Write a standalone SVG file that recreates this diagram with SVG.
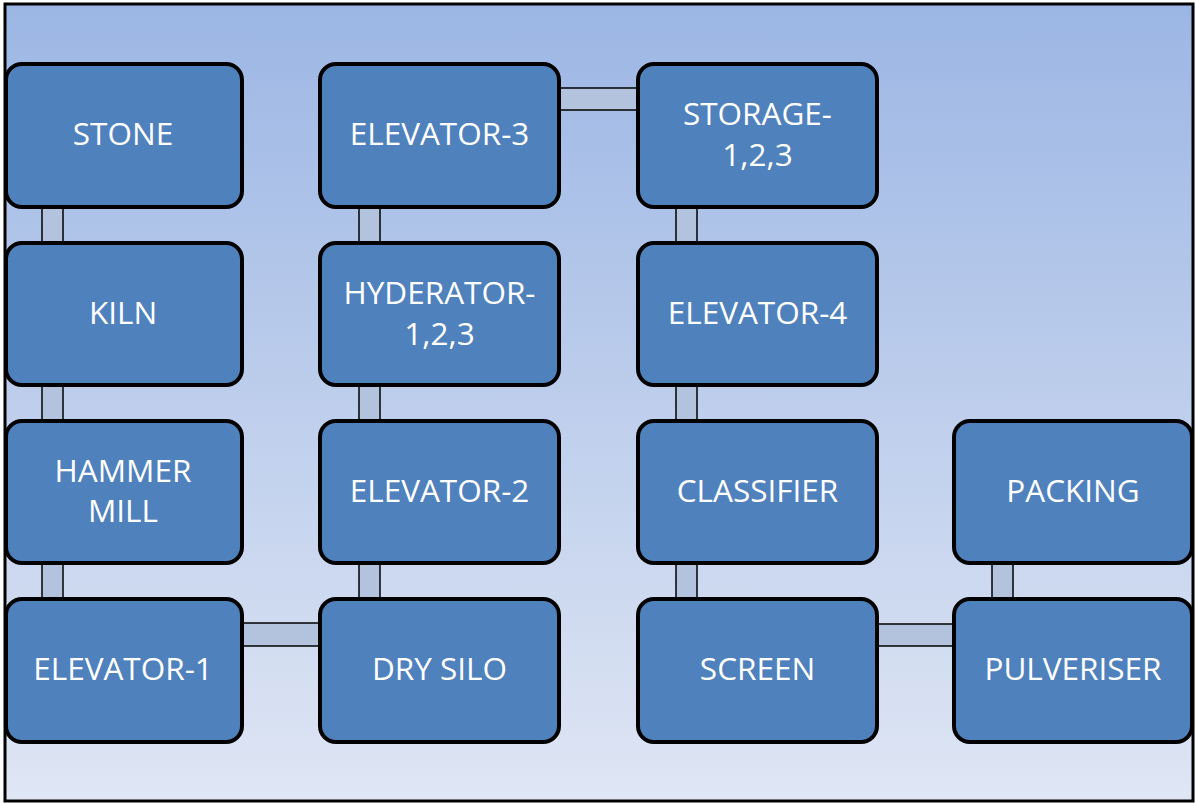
<svg xmlns="http://www.w3.org/2000/svg" width="1195" height="803" viewBox="0 0 1195 803">
<defs>
<linearGradient id="bg" x1="0" y1="0" x2="0" y2="1">
<stop offset="0" stop-color="#9cb6e4"/>
<stop offset="1" stop-color="#dfe6f4"/>
</linearGradient>
<style>
.box{fill:#4f81bd;stroke:#000;stroke-width:4}
.bar{fill:#b3c3dd;stroke:#000;stroke-width:1.5}
.t{font-family:"Open Sans","Liberation Sans",sans-serif;font-size:31.5px;fill:#fff;text-anchor:middle;dominant-baseline:central}
</style>
</defs>
<rect x="5" y="4" width="1188" height="797" fill="url(#bg)" stroke="#000" stroke-width="3"/>
<g id="connectors">
<rect class="bar" x="42" y="207" width="21" height="36"/>
<rect class="bar" x="42" y="385" width="21" height="36"/>
<rect class="bar" x="42" y="563" width="21" height="36"/>
<rect class="bar" x="242" y="623" width="78" height="23"/>
<rect class="bar" x="359" y="563" width="21" height="36"/>
<rect class="bar" x="359" y="385" width="21" height="36"/>
<rect class="bar" x="359" y="207" width="21" height="36"/>
<rect class="bar" x="559" y="88" width="79" height="22"/>
<rect class="bar" x="676" y="207" width="21" height="36"/>
<rect class="bar" x="676" y="385" width="21" height="36"/>
<rect class="bar" x="676" y="563" width="21" height="36"/>
<rect class="bar" x="877" y="624" width="77" height="22"/>
<rect class="bar" x="992" y="563" width="21" height="36"/>
</g>
<g id="stone"><rect class="box" x="6" y="64" width="236" height="143" rx="16"/><text class="t" x="123" y="132.5">STONE</text></g>
<g id="kiln"><rect class="box" x="6" y="243" width="236" height="142" rx="16"/><text class="t" x="123" y="311.5">KILN</text></g>
<g id="hammer-mill"><rect class="box" x="6" y="421" width="236" height="142" rx="16"/><text class="t" x="123" y="469.5">HAMMER</text><text class="t" x="123" y="509.5">MILL</text></g>
<g id="elevator-1"><rect class="box" x="6" y="599" width="236" height="143" rx="16"/><text class="t" x="123" y="667.5">ELEVATOR-1</text></g>
<g id="elevator-3"><rect class="box" x="320" y="64" width="239" height="143" rx="16"/><text class="t" x="439.5" y="132.5">ELEVATOR-3</text></g>
<g id="hyderator"><rect class="box" x="320" y="243" width="239" height="142" rx="16"/><text class="t" x="439.5" y="291.5">HYDERATOR-</text><text class="t" x="439.5" y="332.5">1,2,3</text></g>
<g id="elevator-2"><rect class="box" x="320" y="421" width="239" height="142" rx="16"/><text class="t" x="439.5" y="489.5">ELEVATOR-2</text></g>
<g id="dry-silo"><rect class="box" x="320" y="599" width="239" height="143" rx="16"/><text class="t" x="439.5" y="667.5">DRY SILO</text></g>
<g id="storage"><rect class="box" x="638" y="64" width="239" height="143" rx="16"/><text class="t" x="757.5" y="112.5">STORAGE-</text><text class="t" x="757.5" y="153.5">1,2,3</text></g>
<g id="elevator-4"><rect class="box" x="638" y="243" width="239" height="142" rx="16"/><text class="t" x="757.5" y="311.5">ELEVATOR-4</text></g>
<g id="classifier"><rect class="box" x="638" y="421" width="239" height="142" rx="16"/><text class="t" x="757.5" y="489.5">CLASSIFIER</text></g>
<g id="screen"><rect class="box" x="638" y="599" width="239" height="143" rx="16"/><text class="t" x="757.5" y="667.5">SCREEN</text></g>
<g id="packing"><rect class="box" x="954" y="421" width="238" height="142" rx="16"/><text class="t" x="1073" y="489.5">PACKING</text></g>
<g id="pulveriser"><rect class="box" x="954" y="599" width="238" height="143" rx="16"/><text class="t" x="1073" y="667.5">PULVERISER</text></g>
</svg>
